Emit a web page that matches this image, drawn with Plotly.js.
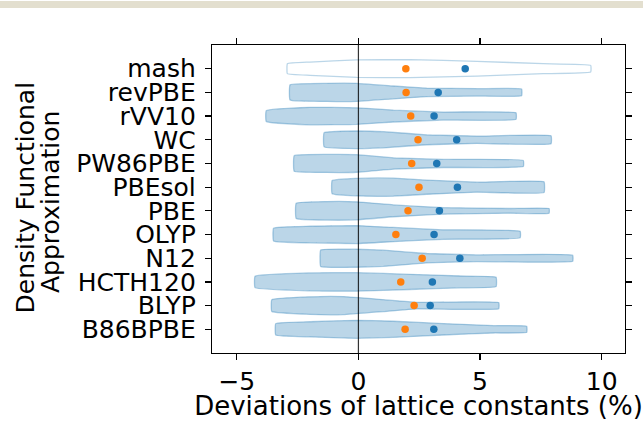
<!DOCTYPE html>
<html>
<head>
<meta charset="utf-8">
<script src="https://cdn.plot.ly/plotly-3.0.1.min.js"></script>
<style>html,body{margin:0;padding:0;background:#fff;}#chart{width:643px;height:421px;}</style>
</head>
<body>
<div id="chart"></div>
<script>
// Functionals, top to bottom
var functionals = ["mash","revPBE","rVV10","WC","PW86PBE","PBEsol","PBE","OLYP","N12","HCTH120","BLYP","B86BPBE"];
// Dots (orange and blue markers)
var orangeVals = [1.95, 1.96, 2.15, 2.45, 2.19, 2.49, 2.04, 1.54, 2.62, 1.74, 2.29, 1.92];
var blueVals   = [4.39, 3.28, 3.11, 4.04, 3.22, 4.07, 3.33, 3.11, 4.17, 3.04, 2.95, 3.10];
// Violin profiles: deviation positions and half-widths (category units)
var profileX = [
  [-2.92, -1.99, -0.07, 2.12, 4.87, 7.6, 9.55],
  [-2.81, -1.3, -0.07, 1.44, 2.81, 4.87, 6.71],
  [-3.79, -1.99, -0.07, 1.44, 3.49, 6.48],
  [-1.41, -0.07, 1.03, 2.81, 4.87, 7.92],
  [-2.64, -1.3, -0.07, 1.44, 3.49, 6.78],
  [-1.08, -0.07, 1.44, 2.81, 4.87, 7.63],
  [-2.56, -1.3, -0.07, 1.44, 3.49, 6.23, 7.84],
  [-3.49, -1.99, -0.07, 1.44, 3.49, 6.65],
  [-1.55, -0.07, 1.03, 2.81, 4.87, 8.81],
  [-4.25, -1.99, -0.07, 2.12, 4.18, 5.66],
  [-3.56, -1.99, -0.62, 1.03, 2.4, 5.77],
  [-3.4, -1.99, -0.07, 1.44, 3.49, 5.55, 6.92]
];
var profileW = [
  [0.21, 0.28, 0.37, 0.38, 0.31, 0.21, 0.14],
  [0.32, 0.38, 0.38, 0.27, 0.18, 0.155, 0.14],
  [0.23, 0.37, 0.35, 0.25, 0.17, 0.14],
  [0.30, 0.37, 0.34, 0.21, 0.155, 0.17],
  [0.33, 0.38, 0.37, 0.24, 0.17, 0.13],
  [0.28, 0.37, 0.38, 0.30, 0.21, 0.23],
  [0.32, 0.39, 0.38, 0.25, 0.14, 0.10, 0.10],
  [0.27, 0.35, 0.38, 0.30, 0.20, 0.14],
  [0.35, 0.38, 0.34, 0.20, 0.14, 0.13],
  [0.24, 0.38, 0.39, 0.32, 0.25, 0.20],
  [0.25, 0.37, 0.38, 0.25, 0.14, 0.13],
  [0.24, 0.32, 0.38, 0.34, 0.24, 0.155, 0.13]
];

var n = functionals.length;
var positions = functionals.map(function(_, i){ return n - 1 - i; });
var traces = [];
for (var i = 0; i < n; i++) {
  var xs = profileX[i], ws = profileW[i], p = positions[i];
  var px = [], py = [];
  for (var k = 0; k < xs.length; k++) { px.push(xs[k]); py.push(p + ws[k]); }
  for (var k = xs.length - 1; k >= 0; k--) { px.push(xs[k]); py.push(p - ws[k]); }
  px.push(xs[0]); py.push(p + ws[0]);
  var isMash = (i === 0);
  traces.push({
    type: "scatter", mode: "lines", x: px, y: py,
    fill: "toself",
    fillcolor: isMash ? "rgba(255,255,255,1)" : "rgba(31,119,180,0.3)",
    line: {color: isMash ? "rgba(31,119,180,0.3)" : "rgba(31,119,180,0.35)", width: 1.3, shape: "spline", smoothing: 0.3},
    hoverinfo: "skip", showlegend: false
  });
}
traces.push({type:"scatter", mode:"markers", x: orangeVals, y: positions,
  marker:{color:"#ff7f0e", size:7.5}, hoverinfo:"skip", showlegend:false});
traces.push({type:"scatter", mode:"markers", x: blueVals, y: positions,
  marker:{color:"#1f77b4", size:7.5}, hoverinfo:"skip", showlegend:false});

var L = 212, R = 625, T = 45, B = 353, W = 643, H = 421;
function px2x(p){ return (p - L)/(R - L); }
function px2y(p){ return (B - p)/(B - T); }
var layout = {
  width: W, height: H,
  margin: {l: L, r: W - R, t: T, b: H - B, pad: 0},
  paper_bgcolor: "#ffffff", plot_bgcolor: "#ffffff",
  font: {family: "DejaVu Sans", size: 25, color: "#000"},
  showlegend: false,
  xaxis: {
    range: [-6.02, 10.96], tickvals: [-5, 0, 5, 10],
    ticks: "outside", ticklen: 6, tickwidth: 1.2, tickcolor: "#000",
    showline: true, linecolor: "#000", linewidth: 1.2, mirror: "ticks",
    showgrid: false, zeroline: false,
    tickfont: {size: 25},
    title: {text: "Deviations of lattice constants (%)", font: {size: 26}, standoff: 6}
  },
  yaxis: {
    range: [-1, 12], tickvals: positions, ticktext: functionals,
    ticks: "outside", ticklen: 6, tickwidth: 1.2, tickcolor: "#000",
    showline: true, linecolor: "#000", linewidth: 1.2, mirror: "ticks",
    showgrid: false, zeroline: false, ticklabelstandoff: 4,
    tickfont: {size: 25}
  },
  shapes: [
    {type:"line", xref:"x", yref:"paper", x0:0, x1:0, y0:0, y1:1, layer:"above",
     line:{color:"rgba(0,0,0,0.8)", width:1.2}},
    {type:"rect", xref:"paper", yref:"paper",
     x0: px2x(0), x1: px2x(W), y0: px2y(8), y1: px2y(1),
     fillcolor:"#e3dfcf", line:{width:0}, layer:"below"}
  ],
  annotations: [
    {text: "Density Functional", textangle: -90,
     xref: "paper", yref: "paper", x: px2x(24.5), y: px2y(198),
     xanchor: "center", yanchor: "middle", showarrow: false,
     font: {size: 25, color: "#000"}},
    {text: "Approximation", textangle: -90,
     xref: "paper", yref: "paper", x: px2x(50.5), y: px2y(202.5),
     xanchor: "center", yanchor: "middle", showarrow: false,
     font: {size: 25, color: "#000"}}
  ]
};
Plotly.newPlot("chart", traces, layout, {displayModeBar: false, staticPlot: true});
</script>
</body>
</html>
